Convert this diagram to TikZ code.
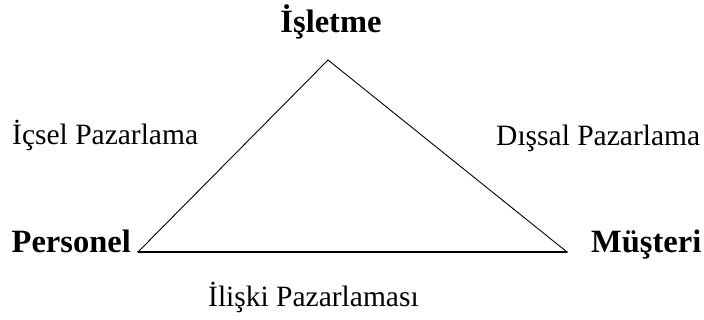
\documentclass[tikz,border=0pt]{standalone}
\usepackage{fontspec}
\setmainfont{Liberation Serif}
\usepackage{tkz-euclide}
\tikzset{
  Etiket/.style={inner sep=0pt,font=\fontsize{29.5}{36}\selectfont},
  Kose/.style={Etiket,font=\fontsize{32.5}{38}\selectfont\bfseries}
}

\begin{document}
\begin{tikzpicture}[x=1pt,y=1pt]
\useasboundingbox (0,0) rectangle (704,320);
\tkzSetUpLine[line width=1pt,color=black]

\tkzDefPoints{328/260/I,138/68/P,567/68/M}

\tkzDrawSegments[line width=0.9pt](P,I I,M)
\tkzDrawSegments[line width=1.5pt](P,M)

\node[Kose,anchor=base] (isletme) at (331,287) {İşletme};
\node[Kose,anchor=base east] (personel) at (131,67) {Personel};
\node[Kose,anchor=base west] (musteri) at (591,67) {Müşteri};

\node[Etiket,anchor=base west] (icsel) at (12,175) {İçsel Pazarlama};
\node[Etiket,anchor=base west] (dissal) at (496,174) {Dışsal Pazarlama};
\node[Etiket,anchor=base west] (iliski) at (208,13) {İlişki Pazarlaması};

\end{tikzpicture}
\end{document}
